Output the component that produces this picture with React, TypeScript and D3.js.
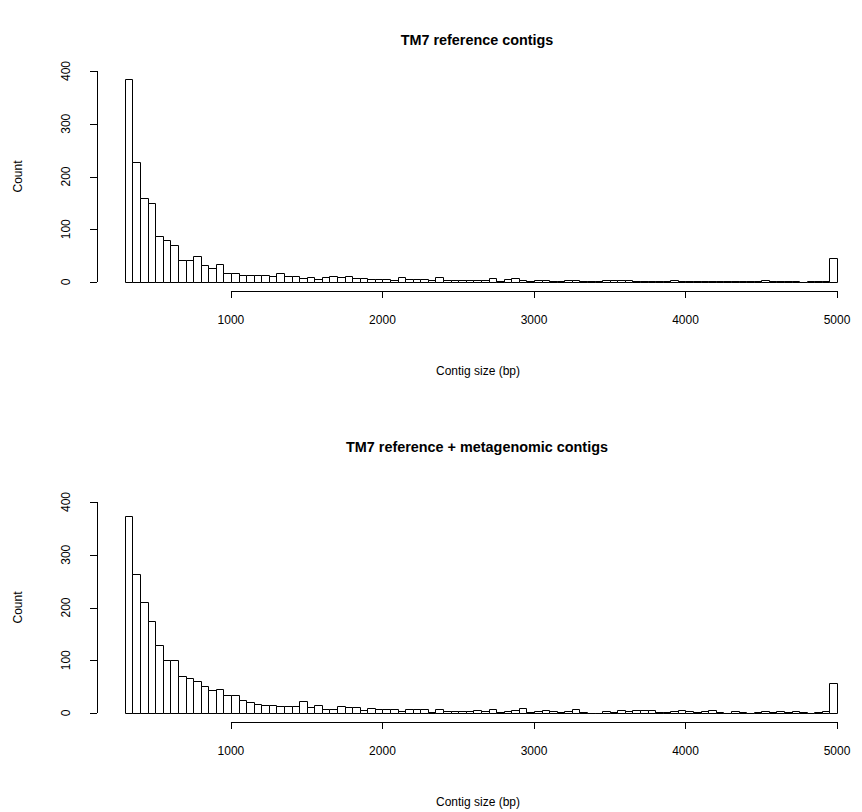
import React from "react";
import * as d3 from "d3";

// Histogram bin edges: 300 .. 5000 bp, 50 bp wide
const binStart = 300;
const binWidth = 50;

// Counts per bin (94 bins) — TM7 reference contigs
const refCounts = [
  385, 228, 160, 150, 88, 80, 71, 42, 41, 50, 32, 26, 34, 18,
  17, 14, 14, 13, 13, 12, 17,
  12, 11, 7, 10, 6, 10, 12, 9, 11, 7, 8, 6, 6, 6, 4, 9, 5,
  5, 5, 3, 9, 4, 4, 4, 3, 3, 3, 7, 2, 6, 7, 4, 1, 3, 3, 1, 1, 3, 3, 1, 1, 1, 3, 3, 4,
  3, 1, 1, 2, 1, 1, 4, 2, 1, 2, 1, 2, 1, 1, 2, 1, 1, 1, 4, 1, 2, 2, 1, 0, 1, 2, 2, 45,
];

// Counts per bin (94 bins) — TM7 reference + metagenomic contigs
const metaCounts = [
  373, 264, 211, 175, 128, 100, 100, 71, 67, 61, 51, 43, 45, 35, 35, 25, 20, 18,
  15, 15, 13, 13, 13, 22, 12, 15, 7, 7, 14, 11, 11, 6, 9, 7, 7, 8, 4, 8, 8, 8, 1, 8, 3, 3, 4, 3, 5, 3, 8, 1, 4, 5, 10, 2, 3,
  5, 3, 1, 3, 7, 2, 0, 0, 3, 2, 5, 4, 5, 5, 6, 2, 2, 3, 5, 3, 1, 3, 6, 1, 0, 4, 1, 0, 1, 4, 1, 3, 1, 4, 1, 0, 2, 3, 57,
];

const xTicks = [1000, 2000, 3000, 4000, 5000];
const yTicks = [0, 100, 200, 300, 400];
const titles = ["TM7 reference contigs", "TM7 reference + metagenomic contigs"];
const xLabel = "Contig size (bp)";
const yLabel = "Count";

const FONT = "'Liberation Sans', Arial, Helvetica, sans-serif";

function Panel({ counts, title, dy, titleY }: { counts: number[]; title: string; dy: number; titleY: number }) {
  const x = d3.scaleLinear().domain([300, 5000]).range([124.9, 837]);
  const y = d3.scaleLinear().domain([0, 400]).range([282 + dy, 71 + dy]);
  const axisY = 291 + dy;
  const axisX = 97;
  return (
    <g>
      <text x={477} y={titleY} textAnchor="middle" fontFamily={FONT} fontWeight="bold" fontSize={14.4} fill="#000">
        {title}
      </text>
      {counts.map((c, i) => {
        const x0 = Math.round(x(binStart + i * binWidth)) + 0.5;
        const x1 = Math.round(x(binStart + (i + 1) * binWidth)) + 0.5;
        const yt = Math.round(y(c)) + 0.5;
        const yb = Math.round(y(0)) + 0.5;
        return (
          <path
            key={i}
            d={`M${x0},${yb}V${yt}H${x1}V${yb}Z`}
            fill="#fff"
            stroke="#000"
            strokeWidth={1}
          />
        );
      })}
      {/* x axis */}
      <line x1={x(xTicks[0])} x2={x(xTicks[xTicks.length - 1])} y1={axisY + 0.5} y2={axisY + 0.5} stroke="#000" />
      {xTicks.map((t) => (
        <g key={t}>
          <line x1={Math.round(x(t)) + 0.5} x2={Math.round(x(t)) + 0.5} y1={axisY} y2={axisY + 7} stroke="#000" />
          <text x={x(t)} y={324 + dy} textAnchor="middle" fontFamily={FONT} fontSize={12} fill="#000">
            {t}
          </text>
        </g>
      ))}
      <text x={478} y={375 + dy} textAnchor="middle" fontFamily={FONT} fontSize={12} fill="#000">
        {xLabel}
      </text>
      {/* y axis */}
      <line x1={axisX + 0.5} x2={axisX + 0.5} y1={y(yTicks[0])} y2={y(yTicks[yTicks.length - 1])} stroke="#000" />
      {yTicks.map((t) => (
        <g key={t}>
          <line x1={axisX - 7} x2={axisX} y1={Math.round(y(t)) + 0.5} y2={Math.round(y(t)) + 0.5} stroke="#000" />
          <text transform={`translate(70,${y(t)}) rotate(-90)`} textAnchor="middle" fontFamily={FONT} fontSize={12} fill="#000">
            {t}
          </text>
        </g>
      ))}
      <text transform={`translate(22,${(y(0) + y(400)) / 2}) rotate(-90)`} textAnchor="middle" fontFamily={FONT} fontSize={12} fill="#000">
        {yLabel}
      </text>
    </g>
  );
}

export default function App() {
  return (
    <svg width={862} height={812} style={{ position: "absolute", left: 0, top: 0, background: "#fff" }}>
      <rect width={862} height={812} fill="#fff" />
      <Panel counts={refCounts} title={titles[0]} dy={0} titleY={45} />
      <Panel counts={metaCounts} title={titles[1]} dy={431} titleY={452} />
    </svg>
  );
}
